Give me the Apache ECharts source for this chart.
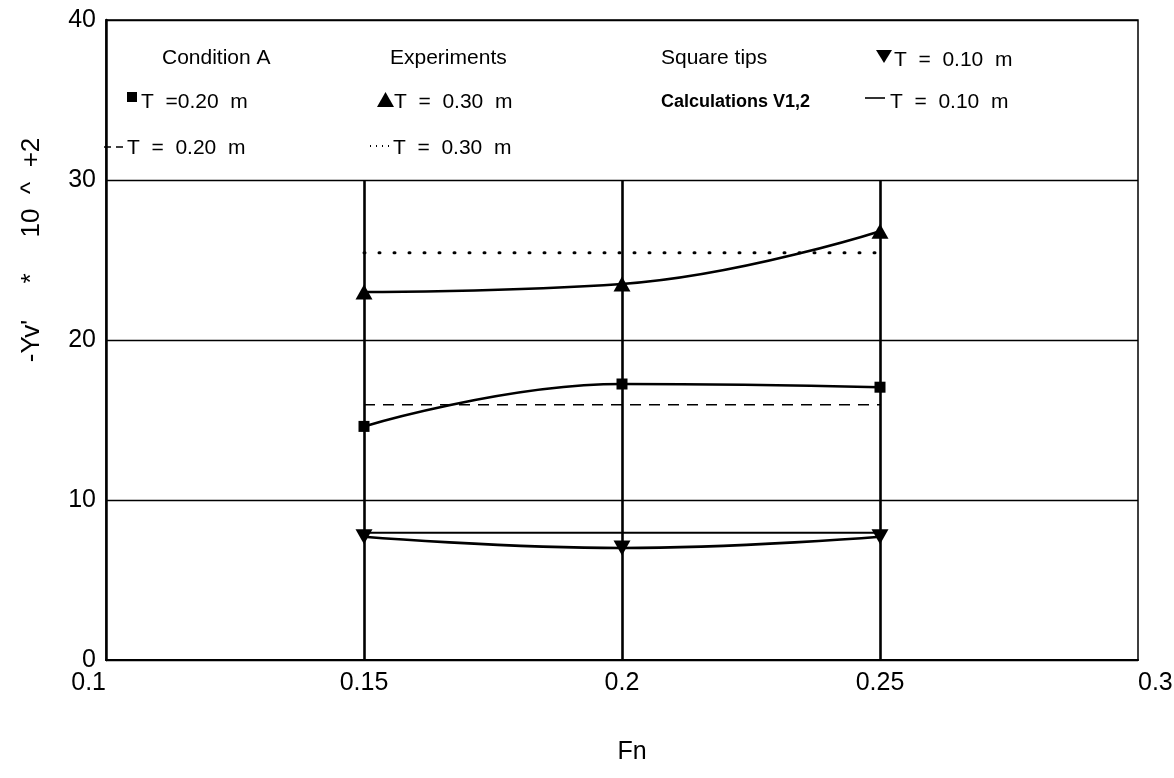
<!DOCTYPE html>
<html>
<head>
<meta charset="utf-8">
<script src="https://cdn.jsdelivr.net/npm/echarts@6/dist/echarts.min.js"></script>
<style>
  html, body { margin: 0; padding: 0; background: #fff; }
  #chart { width: 1174px; height: 778px; }
</style>
</head>
<body>
<div id="chart"></div>
<script>
// Froude numbers where the runs were made
const fn = [0.15, 0.2, 0.25];

// Experiments (square tips), -Yv' * 10^2
const expT010 = [7.7, 7.0, 7.7];
const expT020 = [14.6, 17.25, 17.05];
const expT030 = [23.0, 23.5, 26.8];

// Calculations V1,2 (constant over the Fn range)
const calcFn = [0.15, 0.25];
const calcT010 = [7.95, 7.95];
const calcT020 = [15.95, 15.95];
const calcT030 = [25.45, 25.45];

// Axis ticks
const xTicks = ['0.1', '0.15', '0.2', '0.25', '0.3'];
const yTicks = ['0', '10', '20', '30', '40'];

// Vertical reference lines drawn up to the legend panel
const refLineTop = 30;

// Legend / caption texts
const hdrCondition = 'Condition A';
const hdrExperiments = 'Experiments';
const hdrSquare = 'Square tips';
const hdrCalc = 'Calculations V1,2';
const lblT010 = 'T  =  0.10  m';
const lblT020exp = 'T  =0.20  m';
const lblT020 = 'T  =  0.20  m';
const lblT030 = 'T  =  0.30  m';
const yName = "-Yv'     *     10  ^  +2";
const xName = 'Fn';

const pairs = (xs, ys) => xs.map((x, i) => [x, ys[i]]);

const FONT = '"Liberation Sans", Arial, sans-serif';
const INK = '#000';
const LEG = '21px ' + FONT;

const chart = echarts.init(document.getElementById('chart'), null, { renderer: 'canvas' });

const expLine = { color: INK, width: 2.6 };

const option = {
  backgroundColor: '#fff',
  animation: false,
  grid: {
    left: 106, right: 36, top: 20, bottom: 118,
    outerBoundsMode: 'none', containLabel: false,
    show: true, borderColor: INK, borderWidth: 1.5, backgroundColor: 'transparent'
  },
  xAxis: {
    type: 'value', min: 0.1, max: 0.3, interval: 0.05,
    axisLine: { show: true, onZero: false, lineStyle: { color: INK, width: 2 } },
    axisTick: { show: false },
    splitLine: { show: false },
    axisLabel: {
      color: INK, fontFamily: FONT, fontSize: 25, margin: 11,
      alignMinLabel: 'right', alignMaxLabel: 'left',
      formatter: (v) => {
        const i = Math.round((v - 0.1) / 0.05);
        return xTicks[i] !== undefined ? xTicks[i] : '';
      }
    }
  },
  yAxis: {
    type: 'value', min: 0, max: 40, interval: 10,
    axisLine: { show: true, lineStyle: { color: INK, width: 2.5 } },
    axisTick: { show: false },
    splitLine: { show: true, lineStyle: { color: INK, width: 1.4 } },
    axisLabel: {
      color: INK, fontFamily: FONT, fontSize: 25, margin: 10,
      formatter: (v) => yTicks[Math.round(v / 10)] || ''
    }
  },
  series: [
    {
      name: 'ref',
      type: 'line', data: [], silent: true,
      markLine: {
        silent: true, symbol: ['none', 'none'], label: { show: false },
        lineStyle: { color: INK, width: 2.6, type: 'solid' },
        data: fn.map((x) => [{ coord: [x, 0] }, { coord: [x, refLineTop] }])
      }
    },
    {
      name: 'Calc T=0.10', type: 'line', data: pairs(calcFn, calcT010),
      symbol: 'none', lineStyle: { color: INK, width: 2 }, z: 3
    },
    {
      name: 'Calc T=0.20', type: 'line', data: pairs(calcFn, calcT020),
      symbol: 'none', lineStyle: { color: INK, width: 1.6, type: [11, 8] }, z: 3
    },
    {
      name: 'Calc T=0.30', type: 'line', data: pairs(calcFn, calcT030),
      symbol: 'none', lineStyle: { color: INK, width: 3, type: [1, 14], cap: 'round' }, z: 3
    },
    {
      name: 'Exp T=0.10', type: 'line', data: pairs(fn, expT010), smooth: 0.45,
      symbol: 'triangle', symbolRotate: 180, symbolSize: [17, 15],
      itemStyle: { color: INK }, lineStyle: expLine, z: 4
    },
    {
      name: 'Exp T=0.20', type: 'line', data: pairs(fn, expT020), smooth: 0.45,
      symbol: 'rect', symbolSize: 11,
      itemStyle: { color: INK }, lineStyle: expLine, z: 4
    },
    {
      name: 'Exp T=0.30', type: 'line', data: pairs(fn, expT030), smooth: 0.45,
      symbol: 'triangle', symbolSize: [17, 15],
      itemStyle: { color: INK }, lineStyle: expLine, z: 4
    }
  ],
  graphic: [
    // axis names
    {
      type: 'text', x: 32, y: 250, rotation: Math.PI / 2,
      style: { text: yName, fill: INK, font: '26px ' + FONT, align: 'center', verticalAlign: 'middle' }
    },
    {
      type: 'text', x: 632, y: 752,
      style: { text: xName, fill: INK, font: '25px ' + FONT, align: 'center', verticalAlign: 'middle' }
    },
    // legend panel: headings
    { type: 'text', x: 162, y: 58, style: { text: hdrCondition, fill: INK, font: LEG, verticalAlign: 'middle' } },
    { type: 'text', x: 390, y: 58, style: { text: hdrExperiments, fill: INK, font: LEG, verticalAlign: 'middle' } },
    { type: 'text', x: 661, y: 58, style: { text: hdrSquare, fill: INK, font: LEG, verticalAlign: 'middle' } },
    { type: 'text', x: 661, y: 102, style: { text: hdrCalc, fill: INK, font: 'bold 18px ' + FONT, verticalAlign: 'middle' } },
    // T = 0.10 m (experiments)
    { type: 'polygon', shape: { points: [[876, 50], [892, 50], [884, 63]] }, style: { fill: INK } },
    { type: 'text', x: 894, y: 60, style: { text: lblT010, fill: INK, font: LEG, verticalAlign: 'middle' } },
    // T = 0.20 m (experiments)
    { type: 'rect', shape: { x: 127, y: 92, width: 10, height: 10 }, style: { fill: INK } },
    { type: 'text', x: 141, y: 102, style: { text: lblT020exp, fill: INK, font: LEG, verticalAlign: 'middle' } },
    // T = 0.30 m (experiments)
    { type: 'polygon', shape: { points: [[377, 107], [394, 107], [385.5, 92]] }, style: { fill: INK } },
    { type: 'text', x: 394, y: 102, style: { text: lblT030, fill: INK, font: LEG, verticalAlign: 'middle' } },
    // T = 0.10 m (calculations)
    { type: 'line', shape: { x1: 865, y1: 98, x2: 885, y2: 98 }, style: { stroke: INK, lineWidth: 1.6 } },
    { type: 'text', x: 890, y: 102, style: { text: lblT010, fill: INK, font: LEG, verticalAlign: 'middle' } },
    // T = 0.20 m (calculations)
    { type: 'line', shape: { x1: 104, y1: 147, x2: 124, y2: 147 }, style: { stroke: INK, lineWidth: 1.6, lineDash: [7, 5] } },
    { type: 'text', x: 127, y: 148, style: { text: lblT020, fill: INK, font: LEG, verticalAlign: 'middle' } },
    // T = 0.30 m (calculations)
    { type: 'line', shape: { x1: 370, y1: 146, x2: 390, y2: 146 }, style: { stroke: INK, lineWidth: 2, lineDash: [1, 5] } },
    { type: 'text', x: 393, y: 148, style: { text: lblT030, fill: INK, font: LEG, verticalAlign: 'middle' } }
  ]
};

chart.setOption(option);
</script>
</body>
</html>
